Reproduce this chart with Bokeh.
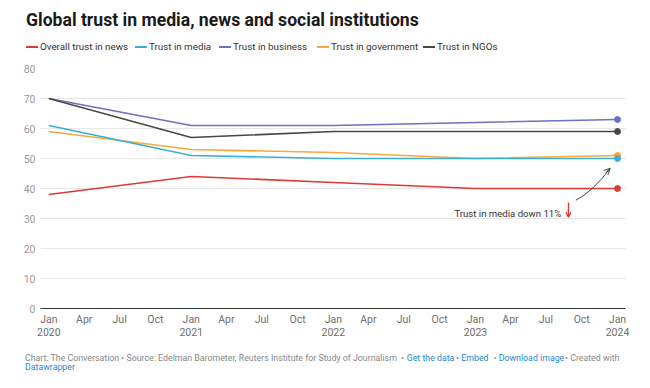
import pandas as pd
from bokeh.plotting import figure
from bokeh.layouts import column
from bokeh.models import (Range1d, FixedTicker, CustomJSTickFormatter, Label, Arrow,
                          OpenHead, ColumnDataSource, Div)
from bokeh.embed import file_html
from bokeh.resources import INLINE

# ---------------- data ----------------
dates = ["2020-01-01", "2021-01-01", "2022-01-01", "2023-01-01", "2024-01-01"]
overall_news = [38, 44, 42, 40, 40]
media = [61, 51, 50, 50, 50]
business = [70, 61, 61, 62, 63]
government = [59, 53, 52, 50, 51]
ngos = [70, 57, 59, 59, 59]
series_names = ["Overall trust in news", "Trust in media", "Trust in business",
                "Trust in government", "Trust in NGOs"]
y_ticks = [0, 10, 20, 30, 40, 50, 60, 70, 80]
x_tick_dates = pd.date_range("2020-01-01", "2024-01-01", freq="QS")
annotation_text = "Trust in media down 11%"
title_text = "Global trust in media, news and social institutions"

FONT = "Roboto"
series_colors = ["#dd3a35", "#3aaed8", "#6f70c2", "#f9a83b", "#474747"]
colors = dict(zip(series_names, series_colors))
values = dict(zip(series_names, [overall_news, media, business, government, ngos]))

x = pd.to_datetime(dates)
day = pd.Timedelta(days=1)

# ---------------- header (title + legend) ----------------
legend_x = [26, 135, 219, 317, 423]
hdr = ['<div style="position:relative;width:650px;height:56px;font-family:Roboto,sans-serif;">',
       f'<div style="position:absolute;left:26px;top:12px;font-size:17.6px;line-height:17.6px;'
       f'font-weight:700;color:#1a1a1a;white-space:nowrap;">{title_text}</div>']
for lx, name in zip(legend_x, series_names):
    hdr.append(f'<div style="position:absolute;left:{lx}px;top:45.7px;width:12px;height:2px;'
               f'background:{colors[name]};"></div>')
    hdr.append(f'<div style="position:absolute;left:{lx + 14}px;top:42.4px;font-size:9.8px;'
               f'line-height:9.8px;color:#333333;white-space:nowrap;">{name}</div>')
hdr.append('</div>')
header = Div(text="".join(hdr), width=650, height=56, margin=0)

# ---------------- chart ----------------
p = figure(width=650, height=290, x_axis_type="datetime", output_backend="svg",
           toolbar_location=None,
           x_range=Range1d(x[0] - 21.3 * day, x[-1] + 20.5 * day),
           y_range=Range1d(0, 80),
           min_border_left=40, min_border_right=25, min_border_top=12, min_border_bottom=38,
           margin=0)
p.outline_line_color = None
p.background_fill_color = "white"
p.border_fill_color = "white"

p.xgrid.visible = False
p.ygrid.grid_line_color = "#e6e6e6"
p.ygrid.grid_line_width = 1
p.yaxis.ticker = FixedTicker(ticks=y_ticks)

p.yaxis.axis_line_color = None
p.yaxis.major_tick_line_color = None
p.yaxis.minor_tick_line_color = None
p.yaxis.major_tick_out = 0
p.yaxis.major_tick_in = 0
p.yaxis.major_label_standoff = 5
p.yaxis.major_label_text_font = FONT
p.yaxis.major_label_text_font_size = "10.5px"
p.yaxis.major_label_text_color = "#9a9a9a"

p.xaxis.ticker = FixedTicker(ticks=[t.value // 10**6 for t in x_tick_dates])
p.xaxis.formatter = CustomJSTickFormatter(code="""
const d = new Date(tick);
const m = d.getUTCMonth();
const names = ["Jan","Feb","Mar","Apr","May","Jun","Jul","Aug","Sep","Oct","Nov","Dec"];
return m === 0 ? names[m] + "\\n" + d.getUTCFullYear() : names[m];
""")
p.xaxis.axis_line_color = "#333333"
p.xaxis.axis_line_width = 1
p.xaxis.major_tick_line_color = None
p.xaxis.minor_tick_line_color = None
p.xaxis.major_tick_out = 0
p.xaxis.major_tick_in = 0
p.xaxis.major_label_standoff = 4
p.xaxis.major_label_text_font = FONT
p.xaxis.major_label_text_font_size = "10.5px"
p.xaxis.major_label_text_line_height = 1.0
p.xaxis.major_label_text_color = "#6e6e6e"

draw_order = ["Overall trust in news", "Trust in business", "Trust in NGOs",
              "Trust in government", "Trust in media"]
for name in draw_order:
    src = ColumnDataSource(dict(x=x, y=values[name]))
    p.line("x", "y", source=src, line_color=colors[name], line_width=1.6)
    p.scatter(x=[x[-1]], y=[values[name][-1]], size=6, fill_color=colors[name],
              line_color=colors[name])

# annotation
p.add_layout(Label(x=pd.Timestamp("2022-11-08"), y=31.7, text=annotation_text,
                   text_font=FONT, text_font_size="9.6px", text_color="#333333",
                   text_baseline="middle"))
p.add_layout(Arrow(x_start=pd.Timestamp("2023-08-28"), y_start=35.3,
                   x_end=pd.Timestamp("2023-08-28"), y_end=30.4,
                   line_color="#dd3a35", line_width=1.4,
                   end=OpenHead(size=5, line_color="#dd3a35", line_width=1.4)))
p.quadratic(x0=[pd.Timestamp("2023-09-16")], y0=[36.1],
            x1=[pd.Timestamp("2023-12-13")], y1=[46.7],
            cx=[pd.Timestamp("2023-10-28")], cy=[38.8],
            line_color="#444444", line_width=1)
p.add_layout(Arrow(x_start=pd.Timestamp("2023-12-01"), y_start=45.2,
                   x_end=pd.Timestamp("2023-12-13"), y_end=46.7,
                   line_color="#444444", line_width=1,
                   end=OpenHead(size=6, line_color="#444444", line_width=1)))

# ---------------- footer ----------------
gray = "#888888"
blue = "#1f8ad0"
foot_items = [
    (25, 0, "Chart: The Conversation \u2022 Source: Edelman Barometer, Reuters Institute for Study of Journalism", gray),
    (401, 0, "\u2022", gray),
    (406.7, 0, "Get the data", blue),
    (456, 0, "\u2022", gray),
    (461.3, 0, "Embed", blue),
    (493.5, 0, "\u2022", gray),
    (498.7, 0, "Download image", blue),
    (565, 0, "\u2022 Created with", gray),
    (25, 1, "Datawrapper", blue),
]
ftr = ['<div style="position:relative;width:650px;height:42px;font-family:Roboto,sans-serif;">']
for fx, row, ft, fc in foot_items:
    top = 7.6 + row * 9.6
    ftr.append(f'<div style="position:absolute;left:{fx}px;top:{top}px;font-size:8.8px;'
               f'line-height:8.8px;color:{fc};white-space:nowrap;">{ft}</div>')
ftr.append('</div>')
footer = Div(text="".join(ftr), width=650, height=42, margin=0)

layout = column(header, p, footer, spacing=0, margin=0)
open("out.html", "w").write(file_html(layout, INLINE))
